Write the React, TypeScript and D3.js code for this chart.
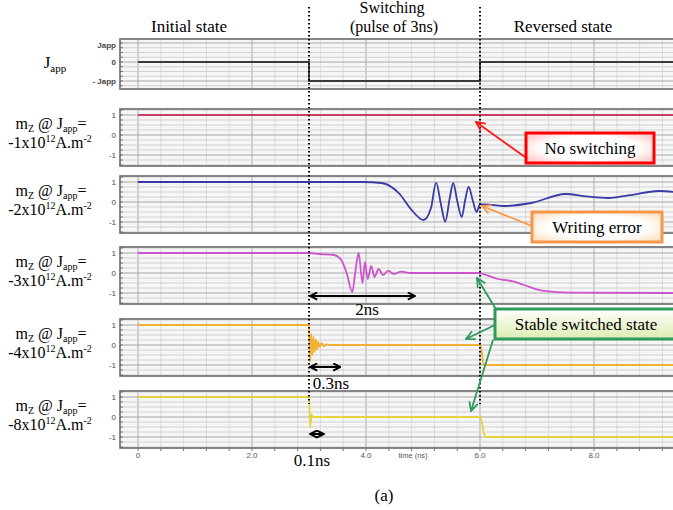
import React from "react";
import * as d3 from "d3";

// time axis
const timeTicks = [0, 2, 4, 6, 8];
const timeTickLabels = ["0", "2.0", "4.0", "6.0", "8.0"];

// m_z axis and the current pulse axis
const mzTicks = [1, 0, -1];
const mzTickLabels = ["1", "0", "-1"];
const jTicks = [0.9, 0, -1];
const jTickLabels = ["Japp", "0", "- Japp"];

// one panel per current density (x10^12 A.m^-2)
const currentDensities = ["-1", "-2", "-3", "-4", "-8"];
const seriesColors = ["#c8405c", "#3a3aa6", "#cc55cc", "#f2b035", "#e6d23c"];

// applied current: 0, then -Japp during the 3ns pulse
const pulse: [number, number][] = [[0, 0], [3, -1], [6, 0], [9.5, 0]];

const mzJ1: [number, number][] = [[0, 1], [9.5, 1]];

const mzJ2: [number, number][] = [
  [0, 1], [3.95, 1], [4.27, 0.95], [4.59, 0.4], [4.78, -0.33], [5.01, -0.9],
  [5.14, -0.3], [5.23, 0.97], [5.32, -0.2], [5.39, -0.98], [5.47, 0.2],
  [5.53, 0.95], [5.6, 0.05], [5.68, -0.75], [5.74, 0.1], [5.8, 0.75],
  [5.88, 0.0], [5.94, -0.5], [6.0, -0.12], [6.1, -0.12], [6.39, -0.2],
  [6.9, -0.05], [7.5, 0.4], [7.87, 0.28], [8.25, 0.2], [8.6, 0.33],
  [9.14, 0.55], [9.5, 0.48],
];

const mzJ3: [number, number][] = [
  [0, 1], [2.99, 1], [3.18, 0.95], [3.44, 0.9], [3.56, 0.68], [3.66, 0.0],
  [3.76, -0.95], [3.81, 0.0], [3.87, 1.0], [3.94, -0.5], [3.98, 0.55],
  [4.03, -0.3], [4.09, 0.35], [4.15, -0.2], [4.22, 0.2], [4.3, -0.1],
  [4.39, 0.12], [4.49, -0.05], [4.62, 0.07], [4.78, 0.0], [5.97, 0.0],
  [6.13, -0.12], [6.32, -0.3], [6.58, -0.42], [6.77, -0.6], [7.09, -0.88],
  [7.6, -0.98], [9.5, -1],
];

const mzJ4: [number, number][] = [
  [0, 1], [3.0, 1], [3.02, -0.85], [3.04, 0.55], [3.06, -0.5], [3.08, 0.4],
  [3.1, -0.35], [3.12, 0.28], [3.14, -0.22], [3.16, 0.17], [3.19, -0.12],
  [3.22, 0.09], [3.26, -0.05], [3.31, 0.03], [3.38, 0], [6.0, 0],
  [6.03, -0.3], [6.06, -0.95], [6.1, -1], [9.5, -1],
];

const mzJ8: [number, number][] = [
  [0, 1], [3.0, 1], [3.02, -0.5], [3.045, 0.12], [3.07, 0], [6.0, 0],
  [6.03, -0.25], [6.06, -0.7], [6.1, -1], [9.5, -1],
];

const mzSeries = [mzJ1, mzJ2, mzJ3, mzJ4, mzJ8];

const W = 673;
const H = 510;
const plotLeft = 120;
const plotRight = 690;
const panelTops = [39, 109, 176, 247, 319, 391];
const panelH = 57;
const serif = "'Liberation Serif', 'Times New Roman', serif";
const sans = "'Liberation Sans', Arial, sans-serif";

const x = d3.scaleLinear().domain([0, 8]).range([138, 594]);
const minorX = d3.range(0, 9.6, 0.4);
const minorY = d3.range(-1.5, 1.51, 0.25);

function Panel({ top, h, y, ticks, labels, bold }: any) {
  const yMin = y.invert(top + h);
  const yMax = y.invert(top);
  const ys = minorY.filter((v) => v > yMin && v < yMax);
  return (
    <g>
      <rect x={plotLeft} y={top} width={plotRight - plotLeft} height={h} fill="#f6f6f6" />
      {minorX.map((t, i) => (
        <line key={"vx" + i} x1={x(t)} x2={x(t)} y1={top} y2={top + h}
          stroke={Math.abs(t / 2 - Math.round(t / 2)) < 0.01 ? "#a9a9a9" : "#dcdcdc"} strokeWidth={1} />
      ))}
      {ys.map((v, i) => (
        <line key={"hy" + i} x1={plotLeft} x2={plotRight} y1={y(v)} y2={y(v)}
          stroke={Math.abs(v - Math.round(v)) < 0.01 ? "#a8a8a8" : "#d2d2d2"} strokeWidth={1.2} />
      ))}
      {ys.map((v, i) => (
        <line key={"tk" + i} x1={plotLeft} x2={plotLeft + 3} y1={y(v)} y2={y(v)} stroke="#777" strokeWidth={1} />
      ))}
      <rect x={plotLeft} y={top} width={plotRight - plotLeft} height={h} fill="none" stroke="#6a6a6a" strokeWidth={1.6} />
      {ticks.map((v: number, i: number) => (
        <text key={"tl" + i} x={plotLeft - 4} y={y(v) + 3} textAnchor="end" fontFamily={sans}
          fontSize={8} fontWeight={bold ? "bold" : "normal"} fill="#444">
          {labels[i]}
        </text>
      ))}
    </g>
  );
}

function Arrow({ x1, y1, x2, y2, color, marker, start, width = 1.8 }: any) {
  return (
    <line x1={x1} y1={y1} x2={x2} y2={y2} stroke={color} strokeWidth={width}
      markerEnd={`url(#${marker})`} markerStart={start ? `url(#${marker})` : undefined} />
  );
}

export default function App() {
  const jTop = panelTops[0];
  const jY = d3.scaleLinear().domain([-1, 0]).range([jTop + 42, jTop + 23]);
  const mzYs = panelTops.slice(1).map((top) => d3.scaleLinear().domain([-1, 1]).range([top + 46, top + 6]));
  const line = (y: any, curve: any) =>
    d3.line<[number, number]>().x((d) => x(d[0])).y((d) => y(d[1])).curve(curve);

  const bottomTop = panelTops[5] + panelH;

  return (
    <div style={{ position: "absolute", left: 0, top: 0 }}>
      <svg width={W} height={H} style={{ display: "block", background: "#fff" }}>
        <defs>
          <clipPath id="plotClip">
            <rect x={plotLeft} y={0} width={W - plotLeft} height={H} />
          </clipPath>
          {[
            ["mRed", "#ff1a1a", 1.6],
            ["mOrange", "#f79646", 1.6],
            ["mGreen", "#2f9a5a", 1.6],
            ["mBlack", "#000", 2.2],
          ].map(([id, c, sw]: any) => (
            <marker key={id} id={id} viewBox="0 0 10 10" refX={9} refY={5} markerWidth={id === "mBlack" ? 9 : 11}
              markerHeight={id === "mBlack" ? 9 : 11} markerUnits="userSpaceOnUse" orient="auto-start-reverse">
              <path d="M1,1 L9,5 L1,9" fill="none" stroke={c} strokeWidth={sw} />
            </marker>
          ))}
          <radialGradient id="gRed" cx="50%" cy="50%" r="70%">
            <stop offset="55%" stopColor="#ffffff" />
            <stop offset="100%" stopColor="#ffb9b9" />
          </radialGradient>
          <radialGradient id="gOrange" cx="50%" cy="50%" r="70%">
            <stop offset="55%" stopColor="#ffffff" />
            <stop offset="100%" stopColor="#fdd6b0" />
          </radialGradient>
          <linearGradient id="gGreen" x1="0" y1="0" x2="0" y2="1">
            <stop offset="0%" stopColor="#ffffff" />
            <stop offset="100%" stopColor="#dcecb0" />
          </linearGradient>
        </defs>

        {/* phase titles */}
        <text x={189} y={32} textAnchor="middle" fontFamily={serif} fontSize={17}>Initial state</text>
        <text x={392} y={13} textAnchor="middle" fontFamily={serif} fontSize={16}>Switching</text>
        <text x={394} y={32} textAnchor="middle" fontFamily={serif} fontSize={16}>(pulse of 3ns)</text>
        <text x={563} y={32} textAnchor="middle" fontFamily={serif} fontSize={17}>Reversed state</text>

        {/* applied current panel */}
        <Panel top={jTop} h={50} y={jY} ticks={jTicks} labels={jTickLabels} bold />
        <path d={line(jY, d3.curveStepAfter)(pulse) || ""} fill="none" stroke="#3a3a3a" strokeWidth={1.8} clipPath="url(#plotClip)" />
        <text x={55} y={68} textAnchor="middle" fontFamily={serif} fontSize={17}>
          J<tspan fontSize={11} dy={4}>app</tspan>
        </text>

        {/* m_z panels */}
        {mzSeries.map((s, i) => {
          const top = panelTops[i + 1];
          const y = mzYs[i];
          return (
            <g key={i}>
              <Panel top={top} h={panelH} y={y} ticks={mzTicks} labels={mzTickLabels} />
              <path d={line(y, d3.curveMonotoneX)(s) || ""} fill="none" stroke={seriesColors[i]}
                strokeWidth={i === 0 ? 2 : 1.8} clipPath="url(#plotClip)" />
              <text x={51} y={top + 20} textAnchor="middle" fontFamily={serif} fontSize={16}>
                m<tspan fontSize={10} dy={3}>Z</tspan>
                <tspan dy={-3}> @ J</tspan>
                <tspan fontSize={10} dy={3}>app</tspan>
                <tspan dy={-3}>=</tspan>
              </text>
              <text x={50} y={top + 39} textAnchor="middle" fontFamily={serif} fontSize={16}>
                {currentDensities[i]}x10<tspan fontSize={10} dy={-6}>12</tspan>
                <tspan dy={6}>A.m</tspan>
                <tspan fontSize={10} dy={-6}>-2</tspan>
              </text>
            </g>
          );
        })}

        {/* time axis */}
        {minorX.filter((t) => x(t) < W).map((t, i) => (
          <line key={"xt" + i} x1={x(t)} x2={x(t)} y1={bottomTop} y2={bottomTop + 3} stroke="#777" />
        ))}
        {timeTicks.map((t, i) => (
          <text key={"xl" + i} x={x(t)} y={458} textAnchor="middle" fontFamily={sans} fontSize={8} fill="#555">
            {timeTickLabels[i]}
          </text>
        ))}
        <text x={413} y={458} textAnchor="middle" fontFamily={sans} fontSize={7.5} fill="#555">time (ns)</text>

        {/* pulse boundaries */}
        {[3, 6].map((t) => (
          <line key={"d" + t} x1={x(t)} x2={x(t)} y1={7} y2={404} stroke="#000" strokeWidth={2}
            strokeDasharray="1.6,2.4" />
        ))}

        {/* annotations */}
        <Arrow x1={525} y1={157} x2={476} y2={122} color="#ff1a1a" marker="mRed" />
        <rect x={526} y={133} width={128} height={30} fill="url(#gRed)" stroke="#ff0000" strokeWidth={3} />
        <text x={590} y={154} textAnchor="middle" fontFamily={serif} fontSize={17}>No switching</text>

        <Arrow x1={532} y1={226} x2={482} y2={206} color="#f79646" marker="mOrange" />
        <rect x={532} y={212} width={130} height={30} fill="url(#gOrange)" stroke="#f79646" strokeWidth={3} />
        <text x={597} y={233} textAnchor="middle" fontFamily={serif} fontSize={17}>Writing error</text>

        <Arrow x1={x(3) + 1} y1={296} x2={x(4.86)} y2={296} color="#000" marker="mBlack" start width={2} />
        <text x={367} y={315} textAnchor="middle" fontFamily={serif} fontSize={17}>2ns</text>

        <Arrow x1={x(3) + 1} y1={367} x2={x(3.55)} y2={367} color="#000" marker="mBlack" start width={2} />
        <text x={331} y={389} textAnchor="middle" fontFamily={serif} fontSize={17}>0.3ns</text>

        <Arrow x1={x(3) + 1} y1={434} x2={x(3.26)} y2={434} color="#000" marker="mBlack" start width={2} />
        <text x={312} y={466} textAnchor="middle" fontFamily={serif} fontSize={17}>0.1ns</text>

        <Arrow x1={497} y1={311} x2={477} y2={278} color="#2f9a5a" marker="mGreen" />
        <Arrow x1={495} y1={325} x2={466} y2={339} color="#2f9a5a" marker="mGreen" />
        <Arrow x1={493} y1={340} x2={471} y2={411} color="#2f9a5a" marker="mGreen" />
        <rect x={495} y={309} width={190} height={30} fill="url(#gGreen)" stroke="#2f9a5a" strokeWidth={3} />
        <text x={586} y={330} textAnchor="middle" fontFamily={serif} fontSize={17}>Stable switched state</text>

        <text x={384} y={501} textAnchor="middle" fontFamily={serif} fontSize={17}>(a)</text>
      </svg>
    </div>
  );
}
